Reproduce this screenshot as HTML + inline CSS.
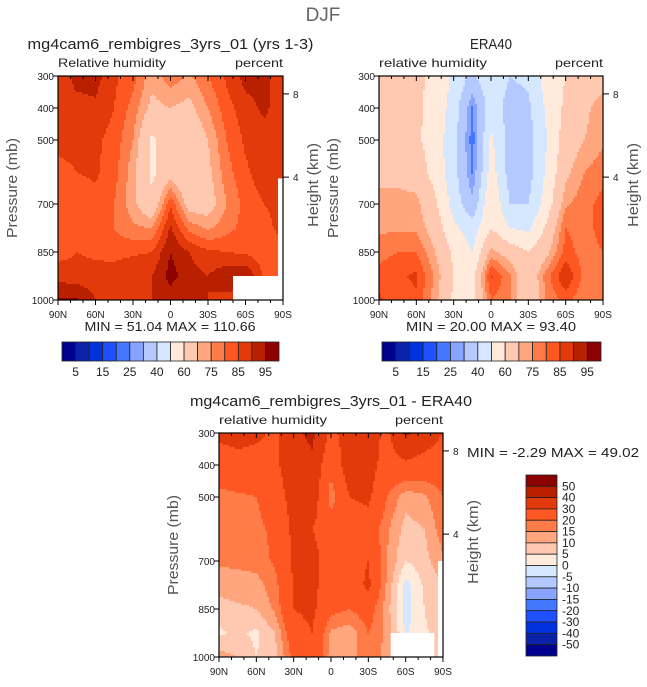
<!DOCTYPE html>
<html><head><meta charset="utf-8">
<style>
body{margin:0;background:#fff;}
svg text{font-family:"Liberation Sans",sans-serif;fill:#222;}
</style></head>
<body>
<svg id="s" width="647" height="682" xmlns="http://www.w3.org/2000/svg">
<text x="323" y="21" font-size="19" text-anchor="middle" style="fill:#666">DJF</text>
</svg>
<script>
// ---- data ----
const lats = [90,75,60,45,30,15,0,-15,-30,-45,-60,-75,-90];
const pressures = [300,400,500,600,700,775,850,925,1000];
const levelsRH = [5,10,15,20,25,30,40,50,60,70,75,80,85,90,95];
const levelsDiff = [-50,-40,-30,-20,-15,-10,-5,0,5,10,15,20,30,40,50];
const rhLabels = ["5","15","25","40","60","75","85","95"];
const diffLabels = ["50","40","30","20","15","10","5","0","-5","-10","-15","-20","-30","-40","-50"];
const latLabels = ["90N","60N","30N","0","30S","60S","90S"];
const latTicks = [90,60,30,0,-30,-60,-90];
const pTicks = [300,400,500,700,850,1000];
const hTicks = [8,4];
const hTickP = [356,616];
const colors = ["#00008f","#0a22aa","#0033dd","#1e50ff","#4477ff","#88a4ff","#b3c9ff","#d6e8ff","#ffeadb","#ffc8b0","#ffa67f","#ff7b47","#ff5722","#e33a0c","#b92000","#8d0000"];
const modelRH = [
[86,92,92,86,82,72,78,74,80,86,92,92,86],
[87,88,89,85,78,68,70,68,75,83,88,91,87],
[86,86,86,83,75,58,66,62,70,80,86,88,88],
[84,85,86,82,72,58,66,60,68,78,84,88,87],
[82,82,83,80,72,62,84,66,66,75,82,85,86],
[82,82,82,80,76,75,91,78,74,78,82,84,86],
[83,85,84,83,84,85,95,90,86,85,84,82,85],
[88,87,87,88,90,90,97,92,90,94,95,84,85],
[96,96,90,88,88,90,92,90,90,88,86,84,85]];
const eraRH = [
[62,62,62,58,48,38,48,40,42,55,60,62,66],
[62,62,62,56,46,24,46,36,38,52,62,68,74],
[62,62,62,55,44,22,52,36,36,50,65,70,74],
[68,68,66,56,44,24,55,36,36,52,68,75,78],
[72,72,72,62,46,32,60,40,40,55,74,78,82],
[74,74,74,66,52,45,60,50,48,62,80,78,82],
[78,80,80,70,58,50,72,66,60,68,82,78,80],
[82,84,86,74,60,56,86,76,62,78,90,78,80],
[86,82,84,72,58,56,80,76,60,76,82,76,80]];
const diffRH = [
[32,34,32,28,38,42,28,34,34,28,42,36,30],
[25,26,26,28,36,38,22,36,34,26,28,26,24],
[18,19,20,25,34,36,17,30,32,20,12,14,20],
[17,17,18,22,32,30,24,24,25,16,8,10,18],
[16,16,17,21,32,34,24,26,30,15,5,8,14],
[12,13,13,18,30,33,24,24,32,14,-2,6,10],
[8,9,10,16,30,32,22,20,24,12,-2,5,10],
[4,6,4,10,26,30,14,12,20,14,-1,4,8],
[12,10,5,8,22,30,12,12,20,12,4,4,8]];

const NS="http://www.w3.org/2000/svg";
const svg=document.getElementById('s');
function mk(tag,attrs,parent){const e=document.createElementNS(NS,tag);for(const k in attrs)e.setAttribute(k,attrs[k]);(parent||svg).appendChild(e);return e;}
function txt(x,y,s,size,anchor,parent,len){const t=mk('text',{x:x,y:y,'font-size':size,'text-anchor':anchor||'start'},parent);t.textContent=s;if(len){t.setAttribute('textLength',len);t.setAttribute('lengthAdjust','spacingAndGlyphs');}return t;}
function colorFor(v,lv){let i=0;while(i<lv.length&&v>=lv[i])i++;return colors[i];}
function sample(grid,lat,p){
  let fx=(90-lat)/15;let i=Math.max(0,Math.min(Math.floor(fx),11));let tx=fx-i;
  let j=0;while(j<pressures.length-2&&p>pressures[j+1])j++;
  let ty=(p-pressures[j])/(pressures[j+1]-pressures[j]);
  const a=grid[j][i],b=grid[j][i+1],c=grid[j+1][i],d=grid[j+1][i+1];
  return (a*(1-tx)+b*tx)*(1-ty)+(c*(1-tx)+d*tx)*ty;
}
function panel(o){
  const g=mk('g',{});
  
  
  const X=o.x,Y=o.y,W=o.w,H=o.h;
  const xs=lat=>X+(90-lat)/180*W;
  const ys=p=>Y+(p-300)/700*H;
  const cg=mk('g',{},g);
  
  
  const step=2;
  for(let py=0;py<H;py+=step){
    const p=300+(py+step/2)/H*700;
    let runStart=0,runCol=null;
    for(let px=0;px<W+step;px+=step){
      let col=null;
      if(px<W){const lat=90-(px+step/2)/W*180;col=colorFor(sample(o.grid,lat,p),o.levels);}
      if(col!==runCol){
        if(runCol!==null){const r=mk('rect',{x:X+runStart,y:Y+py,width:Math.min(px,W)-runStart+0.5,height:Math.min(step+0.5,H-py),fill:runCol},cg);
          
          }
        runStart=px;runCol=col;
      }
    }
  }
  (o.masks||[]).forEach(m=>{const r=mk('rect',{x:xs(m[0]),y:ys(m[2]),width:xs(m[1])-xs(m[0]),height:ys(m[3])-ys(m[2]),fill:'#fff'},g);
    
    });
  const fr=mk('rect',{x:X,y:Y,width:W,height:H,fill:'none',stroke:'#000','stroke-width':1.2},g);
  
  
  latTicks.forEach((l,k)=>{
    mk('line',{x1:xs(l),x2:xs(l),y1:Y+H,y2:Y+H+5,stroke:'#000'},g);
    mk('line',{x1:xs(l),x2:xs(l),y1:Y,y2:Y+5,stroke:'#000'},g);
    const t=txt(xs(l),Y+H+18,latLabels[k],10,'middle',g);
    
    
  });
  for(let l=-80;l<=80;l+=10){if(l%30){mk('line',{x1:xs(l),x2:xs(l),y1:Y+H,y2:Y+H+3,stroke:'#000'},g);mk('line',{x1:xs(l),x2:xs(l),y1:Y,y2:Y+3,stroke:'#000'},g);}}
  pTicks.forEach(p=>{
    mk('line',{x1:X-5,x2:X,y1:ys(p),y2:ys(p),stroke:'#000'},g);
    const t=txt(X-4,ys(p)+4,String(p),10,'end',g);
    
    
  });
  hTicks.forEach((h,k)=>{
    mk('line',{x1:X+W,x2:X+W+6,y1:ys(hTickP[k]),y2:ys(hTickP[k]),stroke:'#000'},g);
    const t=txt(X+W+10,ys(hTickP[k])+4,String(h),10,'start',g);
    
    
  });
  const yl=txt(0,0,'Pressure (mb)',15,'middle',g,100);
  yl.setAttribute('transform','translate('+(X-41)+','+(Y+H/2)+') rotate(-90)');
  yl.setAttribute('style','fill:#555');
  
  
  const hl=txt(0,0,'Height (km)',15,'middle',g,84);
  hl.setAttribute('transform','translate('+(X+W+35)+','+(Y+H/2-3)+') rotate(-90)');
  hl.setAttribute('style','fill:#555');
  
  
  const tt=txt(X+W/2,Y-27,o.title,15,'middle',g,o.tlen);
  
  
  const sl=txt(X,Y-9,o.sub,12,'start',g,108);
  
  
  const sr=txt(X+W,Y-9,'percent',12,'end',g,48);
  
  
  if(o.minmax){const m=txt(o.minmax[0],o.minmax[1],o.minmax[2],13,o.minmax[3],g,o.minmax[4]);
    m.setAttribute('xml:space','preserve');
    
    }
}
panel({name:'model-panel',x:58,y:76,w:225,h:224,grid:modelRH,levels:levelsRH,title:'mg4cam6_rembigres_3yrs_01 (yrs 1-3)',tlen:286,sub:'Relative humidity',
  masks:[[-50,-90,925,1000],[-86,-90,620,925]],minmax:[170,331,'MIN =  51.04   MAX =  110.66','middle',171]});
panel({name:'era40-panel',x:379,y:76,w:224,h:224,grid:eraRH,levels:levelsRH,title:'ERA40',tlen:42,sub:'relative humidity',
  minmax:[491,331,'MIN =  20.00   MAX =  93.40','middle',170]});
panel({name:'difference-panel',x:219,y:433,w:224,h:224,grid:diffRH,levels:levelsDiff,title:'mg4cam6_rembigres_3yrs_01 - ERA40',tlen:282,sub:'relative humidity',
  masks:[[-48,-83,925,1000],[-86,-90,700,1000]],minmax:[467,457,'MIN =   -2.29   MAX =   49.02','start',172]});
// horizontal labelbars
function hbar(x0,y0,name){
  const g=mk('g',{});
  
  
  const bw=(x0===62?217:219)/16;
  colors.forEach((c,i)=>{const r=mk('rect',{x:x0+i*bw,y:y0,width:bw,height:19,fill:c,stroke:'#222','stroke-width':0.8},g);
    
    });
  rhLabels.forEach((l,k)=>{const t=txt(x0+(2*k+1)*bw,y0+34,l,12,'middle',g);
    
    });
}
hbar(62,342,'model-colorbar');
hbar(382,342,'era40-colorbar');
// vertical labelbar
(function(){
  const g=mk('g',{});
  
  
  const bh=181/16;
  colors.slice().reverse().forEach((c,i)=>{const r=mk('rect',{x:526,y:475+i*bh,width:31,height:bh,fill:c,stroke:'#222','stroke-width':0.8},g);
    
    });
  diffLabels.forEach((l,k)=>{const t=txt(562,475+(k+1)*bh+4,l,12,'start',g);
    
    });
})();
</script>
</body></html>
